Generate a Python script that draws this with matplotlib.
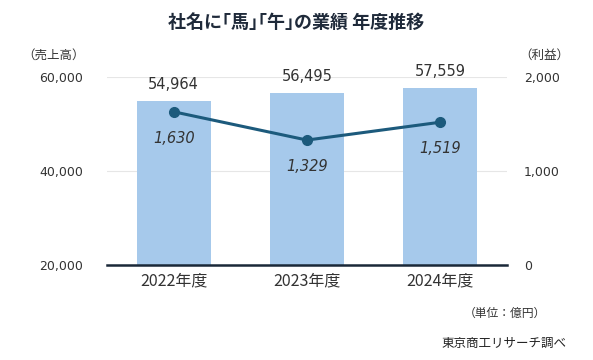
import matplotlib
matplotlib.use("Agg")
import matplotlib.pyplot as plt

plt.rcParams['font.family'] = ['Noto Sans CJK JP', 'DejaVu Sans']

# data
years = ['2022年度', '2023年度', '2024年度']
sales = [54964, 56495, 57559]
profit = [1630, 1329, 1519]

bar_color = '#a6c9eb'
line_color = '#1c5a7c'
text_color = '#333333'
num_font = 'DejaVu Sans'

fig = plt.figure(figsize=(5.93, 3.6), dpi=100)
ax = fig.add_axes([107 / 593, 1 - 265 / 360, 400 / 593, 188 / 360])
ax2 = ax.twinx()

x = range(len(years))
ax.bar(x, sales, width=0.555, color=bar_color, zorder=2)
ax.set_ylim(20000, 60000)
ax.set_xlim(-0.5, 2.5)
ax.set_yticks([20000, 40000, 60000])
ax.set_yticklabels([f'{v:,}' for v in [20000, 40000, 60000]], family=num_font)
ax.grid(axis='y', color='#e6e6e6', linewidth=0.8, zorder=0)
ax.set_axisbelow(True)
ax.set_xticks(list(x))
ax.set_xticklabels(years, fontsize=11.5, color=text_color)

for i, v in enumerate(sales):
    ax.annotate(f'{v:,}', (i, v), xytext=(0, 12), textcoords='offset points',
                ha='center', va='center', fontsize=10.5, color=text_color,
                family=num_font)

ax2.plot(list(x), profit, color=line_color, linewidth=2.2, marker='o',
         markersize=7, zorder=3)
ax2.set_ylim(0, 2000)
ax2.set_yticks([0, 1000, 2000])
ax2.set_yticklabels([f'{v:,}' for v in [0, 1000, 2000]], family=num_font)
for i, v in enumerate(profit):
    ax2.annotate(f'{v:,}', (i, v), xytext=(0, -19), textcoords='offset points',
                 ha='center', va='center', fontsize=10.5, color=text_color,
                 style='italic', family=num_font)

for a in (ax, ax2):
    for s in a.spines.values():
        s.set_visible(False)
    a.tick_params(length=0, labelsize=9, colors=text_color)
ax.tick_params(axis='y', pad=17)
ax2.tick_params(axis='y', pad=12)
ax.tick_params(axis='x', pad=5, labelsize=11.5)
ax.spines['bottom'].set_visible(True)
ax.spines['bottom'].set_color('#1a2838')
ax.spines['bottom'].set_linewidth(1.8)

fig.text(296 / 593, 1 - 22 / 360, '社名に｢馬｣｢午｣の業績 年度推移', ha='center',
         va='center', fontsize=13, fontweight='bold', color='#1f2a3a')
fig.text(54 / 593, 1 - 55 / 360, '（売上高）', ha='center', va='center',
         fontsize=9, color=text_color)
fig.text(544 / 593, 1 - 55 / 360, '（利益）', ha='center', va='center',
         fontsize=9, color=text_color)
fig.text(505 / 593, 1 - 313 / 360, '（単位：億円）', ha='center', va='center',
         fontsize=8.5, color=text_color)
fig.text(504 / 593, 1 - 343 / 360, '東京商工リサーチ調べ', ha='center', va='center',
         fontsize=9, color='#222222')

fig.savefig('out.png', dpi=100)
